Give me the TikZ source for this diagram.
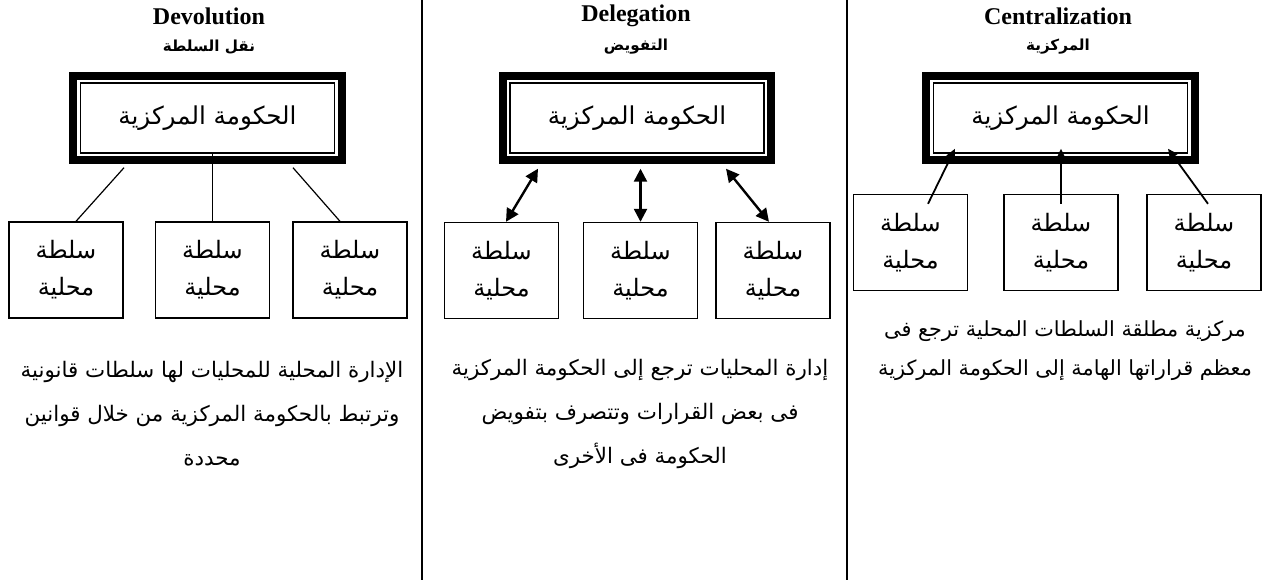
\documentclass[tikz,border=0pt]{standalone}
\usepackage{fontspec}
\setmainfont{Liberation Serif}
\newfontfamily\arabicfont[Script=Arabic]{DejaVu Sans}
\TeXXeTstate=1
\usetikzlibrary{arrows.meta, positioning}
\tikzstyle{heading} = [font=\bfseries\fontsize{12}{14}\selectfont, inner sep=0]
\tikzstyle{subheading} = [font=\arabicfont\bfseries\fontsize{7.6}{9}\selectfont, inner sep=0]
\tikzstyle{gov} = [rectangle, draw, line width=0.7pt, minimum width=127pt, minimum height=35pt, font=\arabicfont\fontsize{12.3}{14}\selectfont]
\tikzstyle{frame} = [line width=4pt]
\tikzstyle{local} = [rectangle, draw, line width=0.7pt, minimum width=57pt, minimum height=48pt, inner sep=0, align=center, font=\arabicfont\fontsize{12}{18.5}\selectfont]
\tikzstyle{note} = [align=center, inner sep=0, font=\arabicfont\fontsize{10.7}{22}\selectfont]
\tikzstyle{shortnote} = [note, font=\arabicfont\fontsize{10.4}{19.5}\selectfont]
\tikzstyle{link} = [line width=0.6pt]
\tikzstyle{twoway} = [line width=1.2pt, <->, >={Triangle[length=6.5pt,width=6.5pt]}]
\tikzstyle{upward} = [line width=0.9pt, ->, >={Triangle[length=5pt,width=4.5pt]}]
\tikzstyle{divider} = [line width=1pt]

\begin{document}
\begin{tikzpicture}[x=0.5pt, y=-0.5pt]
  \useasboundingbox (0,0) rectangle (1269,580);
  \draw [divider] (422,0) -- (422,580);
  \draw [divider] (847,0) -- (847,580);

  % devolution
  \node (devtitle) [heading] at (209,16) {Devolution};
  \node (devsub) [subheading] at (209,47) {\beginR نقل السلطة\endR};
  \node (devgov) [gov] at (207.5,118) {\beginR الحكومة المركزية\endR};
  \node (devl1) [local] at (66,270) {\beginR سلطة\endR\\\beginR محلية\endR};
  \node (devl2) [local] at (212.5,270) {\beginR سلطة\endR\\\beginR محلية\endR};
  \node (devl3) [local] at (350,270) {\beginR سلطة\endR\\\beginR محلية\endR};
  \draw [link] ([shift={(-83.5,14)}]devgov.south) -- ([shift={(10,0)}]devl1.north);
  \draw [link] (devl2.north) -- (devl2.north |- devgov.south);
  \draw [link] ([shift={(85.5,14)}]devgov.south) -- ([shift={(-10,0)}]devl3.north);
  \node (devtext) [note] at (212,414) {\beginR الإدارة المحلية للمحليات لها سلطات قانونية\endR\\
    \beginR وترتبط بالحكومة المركزية من خلال قوانين\endR\\
    \beginR محددة\endR};

  % delegation
  \node (deltitle) [heading] at (636,16) {Delegation};
  \node (delsub) [subheading] at (636,47) {\beginR التفويض\endR};
  \node (delgov) [gov] at (637,118) {\beginR الحكومة المركزية\endR};
  \node (dell1) [local] at (501.5,270.5) {\beginR سلطة\endR\\\beginR محلية\endR};
  \node (dell2) [local] at (640.5,270.5) {\beginR سلطة\endR\\\beginR محلية\endR};
  \node (dell3) [local] at (773,270.5) {\beginR سلطة\endR\\\beginR محلية\endR};
  \draw [twoway] ([shift={(-99,15)}]delgov.south) -- ([shift={(4.5,0)}]dell1.north);
  \draw [twoway] ([shift={(0,15)}]dell2.north |- delgov.south) -- (dell2.north);
  \draw [twoway] ([shift={(89,15)}]delgov.south) -- ([shift={(-4,0)}]dell3.north);
  \node (deltext) [note] at (640,414) {\beginR إدارة المحليات ترجع إلى الحكومة المركزية\endR\\
    \beginR فى بعض القرارات وتتصرف بتفويض\endR\\
    \beginR الحكومة فى الأخرى\endR};

  % centralization
  \node (centitle) [heading] at (1058,16) {Centralization};
  \node (censub) [subheading] at (1058,47) {\beginR المركزية\endR};
  \node (cengov) [gov] at (1060.5,118) {\beginR الحكومة المركزية\endR};
  \node (cenl1) [local] at (910.5,242.5) {\beginR سلطة\endR\\\beginR محلية\endR};
  \node (cenl2) [local] at (1061,242.5) {\beginR سلطة\endR\\\beginR محلية\endR};
  \node (cenl3) [local] at (1204,242.5) {\beginR سلطة\endR\\\beginR محلية\endR};
  \node (centext) [shortnote] at (1065,350.5) {\beginR مركزية مطلقة السلطات المحلية ترجع فى\endR\\
    \beginR معظم قراراتها الهامة إلى الحكومة المركزية\endR};

  % thick frames round the central government
  \foreach \g in {devgov,delgov,cengov}
    \draw [frame] ([shift={(-6.5,6)}]\g.south west) rectangle ([shift={(6.5,-6)}]\g.north east);

  \draw [upward] ([shift={(17.5,10)}]cenl1.north) -- ([shift={(-105.5,-5)}]cengov.south);
  \draw [upward] ([shift={(0,10)}]cenl2.north) -- ([shift={(0,-5)}]cenl2.north |- cengov.south);
  \draw [upward] ([shift={(4,10)}]cenl3.north) -- ([shift={(107.5,-5)}]cengov.south);
\end{tikzpicture}
\end{document}
